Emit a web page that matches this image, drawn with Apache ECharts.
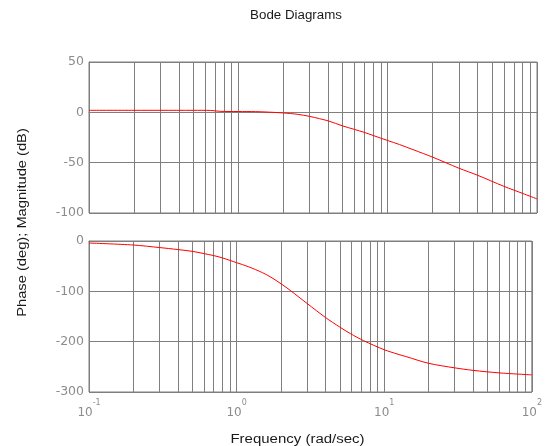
<!DOCTYPE html>
<html><head><meta charset="utf-8">
<script src="https://cdn.jsdelivr.net/npm/echarts@6/dist/echarts.min.js"></script>
<style>html,body{margin:0;padding:0;background:#fff}#c{width:545px;height:446px}</style>
</head><body><div id="c"></div>
<script>
// Magnitude (dB) vs frequency (rad/sec)
const magFreq = [0.1, 0.2, 0.3, 0.5, 0.65, 0.75, 1.0, 1.3, 1.6, 2.0, 2.5, 3.0, 3.5, 4.0, 5.0, 6.0, 7.0, 8.0, 10, 12, 15, 20, 30, 40, 60, 80, 100];
const magDb   = [2, 2, 2, 2, 1.9, 1, 0.8, 0.7, 0.2, -0.6, -2, -4, -6.3, -8.5, -13.5, -17, -20, -23, -28, -32, -37.4, -44.5, -55.5, -62.5, -73.5, -80.5, -86];
// Phase (deg) vs frequency (rad/sec)
const phaseFreq = [0.1, 0.2, 0.3, 0.4, 0.5, 0.6, 0.7, 0.8, 0.9, 1.0, 1.2, 1.5, 1.71, 2.0, 2.33, 3.0, 4.0, 5.0, 5.9, 7.25, 10, 12.4, 14, 20, 30, 40, 60, 100];
const phaseDeg  = [-4, -8, -13, -17, -20.5, -25, -29, -33.5, -38.5, -43, -51, -63, -72, -85, -99, -124, -152, -171, -184, -198, -216, -225, -229.5, -243, -252, -257, -262, -266];
// Axis ticks
const freqTicks = [0.1, 1, 10, 100];
const minorGridFreqs = [0.2, 0.3, 0.4, 0.5, 0.6, 0.7, 0.8, 0.9, 2, 3, 4, 5, 6, 7, 8, 9, 20, 30, 40, 50, 60, 70, 80, 90];
const magTicks = [-100, -50, 0, 50];
const phaseTicks = [-300, -200, -100, 0];

const gridColor = '#7f7f7f';
const labelColor = '#8c8c8c';
const textColor = '#1a1a1a';
const font = 'Liberation Sans, Arial, sans-serif';
const tickFont = 'DejaVu Sans, sans-serif';

const chart = echarts.init(document.getElementById('c'), null, {renderer: 'canvas'});

function xAxisDef(idx, showLabels) {
  return {
    type: 'log', logBase: 10, gridIndex: idx,
    min: freqTicks[0], max: freqTicks[freqTicks.length - 1],
    axisLine: {show: true, lineStyle: {color: gridColor, width: 1}},
    axisTick: {show: false},
    splitLine: {show: true, lineStyle: {color: gridColor, width: 1}},
    axisLabel: showLabels ? {
      show: true, margin: 7,
      formatter: v => '{b|10}{s|' + Math.round(Math.log10(v)) + '}',
      rich: {
        b: {fontSize: 12, color: labelColor, fontFamily: tickFont, verticalAlign: 'bottom', lineHeight: 20},
        s: {fontSize: 8, color: labelColor, fontFamily: tickFont, verticalAlign: 'top', lineHeight: 10}
      }
    } : {show: false}
  };
}
function yAxisDef(idx, ticks) {
  return {
    type: 'value', gridIndex: idx,
    min: ticks[0], max: ticks[ticks.length - 1], interval: ticks[1] - ticks[0],
    axisLine: {show: true, lineStyle: {color: gridColor, width: 1}},
    axisTick: {show: false},
    splitLine: {show: true, lineStyle: {color: gridColor, width: 1}},
    axisLabel: {show: true, margin: 5, fontSize: 12.5, color: labelColor, fontFamily: tickFont}
  };
}
function minorLines(idx, freqs, vals) {
  return {
    type: 'line', xAxisIndex: idx, yAxisIndex: idx, z: 1,
    data: freqs.map((f, i) => [f, vals[i]]),
    symbol: 'none', lineStyle: {width: 0, opacity: 0}, silent: true, animation: false,
    markLine: {
      silent: true, symbol: 'none', animation: false,
      label: {show: false},
      lineStyle: {color: gridColor, width: 1, type: 'solid'},
      data: minorGridFreqs.map(v => ({xAxis: v}))
    }
  };
}

chart.setOption({
  animation: false,
  backgroundColor: '#ffffff',
  grid: [
    {left: 89, top: 62, width: 448, height: 151, show: true, borderColor: gridColor, borderWidth: 1, backgroundColor: 'transparent'},
    {left: 89, top: 241, width: 448, height: 151, show: true, borderColor: gridColor, borderWidth: 1, backgroundColor: 'transparent'}
  ],
  xAxis: [xAxisDef(0, false), xAxisDef(1, true)],
  yAxis: [yAxisDef(0, magTicks), yAxisDef(1, phaseTicks)],
  graphic: [
    {type: 'text', x: 296, y: 16, scaleX: 1.11,
     style: {text: 'Bode Diagrams', fill: textColor, fontSize: 12, fontFamily: font, align: 'center', verticalAlign: 'middle'}},
    {type: 'text', x: 297.5, y: 439.5, scaleX: 1.2,
     style: {text: 'Frequency (rad/sec)', fill: textColor, fontSize: 12.5, fontFamily: font, align: 'center', verticalAlign: 'middle'}},
    {type: 'text', x: 22.5, y: 222.5, rotation: Math.PI / 2, scaleX: 1.13,
     style: {text: 'Phase (deg); Magnitude (dB)', fill: textColor, fontSize: 13, fontFamily: font, align: 'center', verticalAlign: 'middle'}}
  ],
  series: [
    minorLines(0, magFreq, magDb),
    minorLines(1, phaseFreq, phaseDeg),
    {type: 'line', xAxisIndex: 0, yAxisIndex: 0, z: 5, data: magFreq.map((f, i) => [f, magDb[i]]),
     symbol: 'none', smooth: 0.3, lineStyle: {color: '#ff0000', width: 1}},
    {type: 'line', xAxisIndex: 1, yAxisIndex: 1, z: 5, data: phaseFreq.map((f, i) => [f, phaseDeg[i]]),
     symbol: 'none', smooth: 0.3, lineStyle: {color: '#ff0000', width: 1}}
  ]
});
</script>
</body></html>
